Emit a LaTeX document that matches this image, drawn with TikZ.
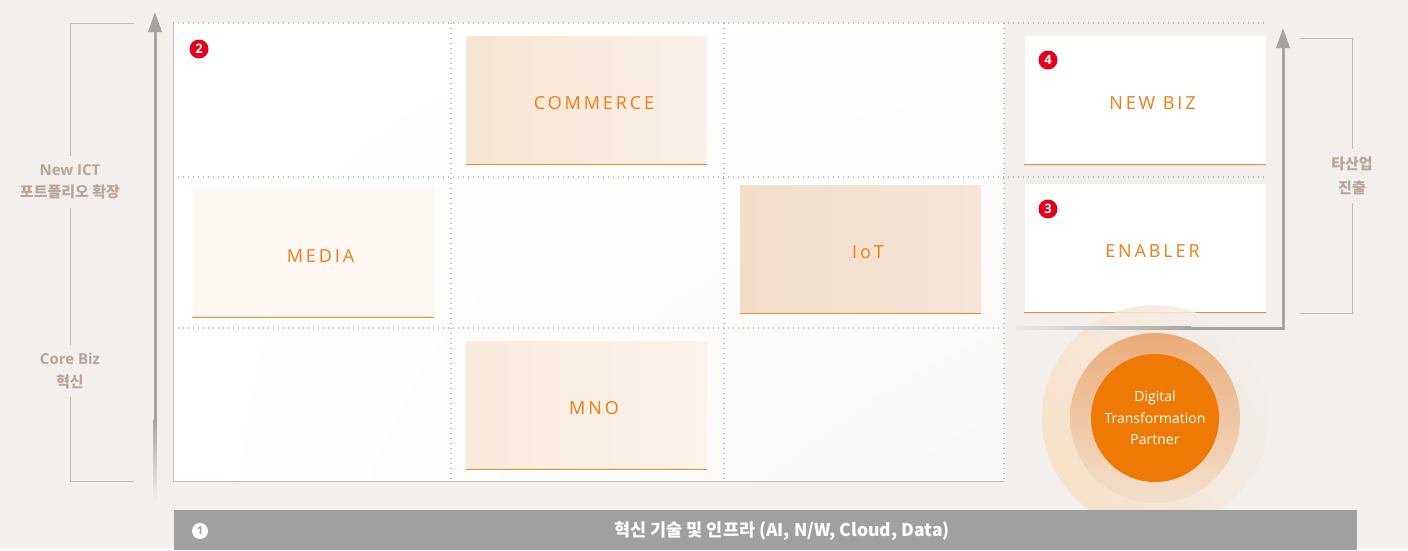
\documentclass[tikz,border=0pt]{standalone}
\usepackage{fontspec}
\setmainfont{Open Sans}
\newfontfamily\krfont{Noto Sans CJK KR}
\newfontfamily\capfont{Open Sans}[LetterSpace=16]
\usetikzlibrary{positioning,arrows.meta,shadings}

\definecolor{bgc}{HTML}{F2EFEC}
\definecolor{gridc}{HTML}{BDBDBD}
\definecolor{boxtext}{HTML}{EF7D15}
\definecolor{boxline}{HTML}{EE8A2E}
\definecolor{numred}{HTML}{E2001A}
\definecolor{arrowc}{HTML}{A3A4A3}
\definecolor{bracketc}{HTML}{C9B9AD}
\definecolor{sidetext}{HTML}{B9A597}
\definecolor{barc}{HTML}{9FA09F}
\definecolor{dtorange}{HTML}{EE7A05}
\definecolor{commercel}{HTML}{F7E4D2}
\definecolor{commercer}{HTML}{FBF1E8}
\definecolor{mediafill}{HTML}{FFF8F2}
\definecolor{iotl}{HTML}{F3DECA}
\definecolor{iotr}{HTML}{F5E5D7}
\definecolor{mnol}{HTML}{FAEADC}
\definecolor{mnor}{HTML}{FCF3EA}
\definecolor{glowc}{HTML}{F9DFC2}
\definecolor{ringtop}{HTML}{EBAC78}
\definecolor{ringbot}{HTML}{F3E0CE}

\begin{document}
\begin{tikzpicture}[x=1pt,y=-1pt,
    cell/.style={minimum width=241pt,minimum height=128pt,inner sep=0pt,
      text height=19pt,text depth=0pt,execute at begin node={\hspace*{15pt}},
      font=\capfont\fontsize{18}{18}\selectfont,text=boxtext},
    badge/.style={circle,fill=numred,text=white,inner sep=0pt,minimum size=19pt,
      font=\bfseries\fontsize{13}{13}\selectfont},
    gridline/.style={gridc,line width=1.2pt,dash pattern=on 1.2pt off 3.8pt},
    axisarrow/.style={arrowc,line width=3pt,-{Triangle[width=13pt,length=20pt]}},
    bracketline/.style={bracketc,line width=1pt},
    sidelabel/.style={text=sidetext,align=center,inner xsep=2pt,inner ysep=8pt,
      font=\bfseries\fontsize{15}{22.5}\selectfont}]
  % canvas
  \fill[bgc] (0,0) rectangle (1408,548);
  \shade[upper left=white,lower left=white,upper right=white!96!bgc,
    lower right=white!60!bgc] (173,23) rectangle (1004,481);
  \draw[gridc,line width=1pt] (173,23) -- (173,481) -- (1004,481);
  % dotted grid
  \draw[gridline] (173,23) -- (1265,23);
  \draw[gridline] (173,177) -- (1265,177);
  \draw[gridline] (173,328) -- (1004,328);
  \foreach \x in {451,724,1004}
    \draw[gridline] (\x,23) -- (\x,481);

  % boxes
  \node[cell,left color=commercel,right color=commercer] (commerce) at (586.5,100) {COMMERCE};
  \node[cell,fill=mediafill] (media) at (313,253) {MEDIA};
  \node[cell,left color=iotl,right color=iotr] (iot) at (860.5,249) {IoT};
  \node[cell,left color=mnol,right color=mnor] (mno) at (586.5,405) {MNO};
  \node[cell,fill=white] (newbiz) at (1145,100) {NEW BIZ};
  \node[cell,fill=white] (enabler) [below=20pt of newbiz] {ENABLER};
  \foreach \b in {commerce,media,iot,mno,newbiz,enabler}
    \draw[boxline,line width=1pt] (\b.south west) -- (\b.south east);

  % numbers
  \node[badge] (n2) at (199,49) {2};
  \node[badge] (n4) at (1048,60) {4};
  \node[badge] (n3) at (1048,209) {3};

  % digital transformation partner
  \node[circle,minimum size=226pt,inner sep=0pt,opacity=.85,
    left color=glowc,right color=bgc,shading angle=120] (glow) at (1155,418) {};
  \node[circle,minimum size=170pt,inner sep=0pt,
    top color=ringtop,bottom color=ringbot] (ring) at (1155,418) {};
  \node[circle,minimum size=128pt,inner sep=0pt,fill=dtorange,text=white,
    align=center,font=\fontsize{14}{21.5}\selectfont] (dtp) at (1155,418)
    {Digital\\Transformation\\Partner};

  % arrows
  \coordinate (lafoot) at (155,420);
  \coordinate (latip) at (155,12);
  \shade[top color=arrowc,bottom color=bgc] (153.5,419) rectangle (156.5,500);
  \draw[axisarrow] (lafoot) -- (latip);
  \coordinate (rafoot) at (1190,328);
  \coordinate (ratip) at (1283,28);
  \shade[left color=bgc,right color=arrowc] (1004,326.5) rectangle (1191,329.5);
  \draw[axisarrow] (rafoot) -| (ratip);

  % side brackets
  \node[sidelabel] (lnew) at (70,182) {New ICT\\{\krfont 포트폴리오 확장}};
  \node[sidelabel] (lcore) at (70,371) {Core Biz\\{\krfont 혁신}};
  \coordinate (ltop) at (134,23);
  \coordinate (lbot) at (134,481);
  \draw[bracketline] (ltop) -| (lnew.north);
  \draw[bracketline] (lnew.south) -- (lcore.north);
  \draw[bracketline] (lcore.south) |- (lbot);
  \node[sidelabel,font=\krfont\bfseries\fontsize{15}{24}\selectfont] (rlab) at (1352,176) {타산업\\진출};
  \coordinate (rtop) at (1300,38);
  \coordinate (rbot) at (1300,313);
  \draw[bracketline] (rtop) -| (rlab.north);
  \draw[bracketline] (rlab.south) |- (rbot);

  % infrastructure bar
  \node[fill=barc,minimum width=1183pt,minimum height=40pt,inner sep=0pt] (bar) at (765.5,530) {};
  \node[circle,fill=white,text=barc,inner sep=0pt,minimum size=16pt,
    font=\bfseries\fontsize{11}{11}\selectfont] (n1) at (200,531) {1};
  \node[text=white,font=\krfont\bfseries\fontsize{17.5}{17.5}\selectfont] (infra) at (782,531)
    {혁신 기술 및 인프라 (AI, N/W, Cloud, Data)};
\end{tikzpicture}
\end{document}
